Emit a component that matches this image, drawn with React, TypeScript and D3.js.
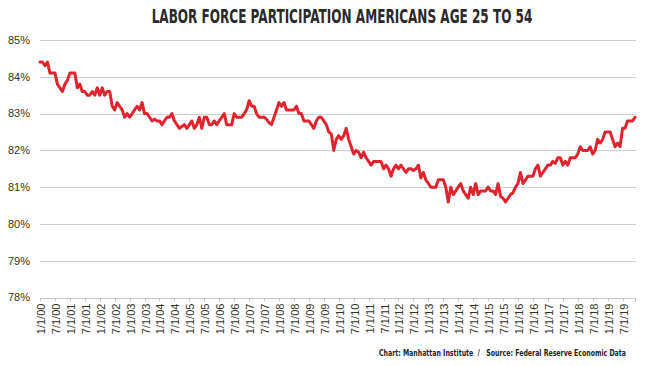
import React, { useEffect, useRef } from 'react';
import * as d3 from 'd3';

const width = 646;
const height = 366;

// Prime-age (25-54) labor force participation rate, monthly, Jan 2000 - Dec 2019
const participation = [
  // 2000
  84.4, 84.4, 84.3, 84.4, 84.1, 84.1, 84.1, 83.8, 83.7, 83.6, 83.8, 83.9,
  // 2001
  84.1, 84.1, 84.1, 83.7, 83.8, 83.6, 83.6, 83.5, 83.5, 83.6, 83.5, 83.7,
  // 2002
  83.5, 83.7, 83.5, 83.6, 83.6, 83.2, 83.1, 83.3, 83.2, 83.1, 82.9, 83.0,
  // 2003
  82.9, 83.0, 83.1, 83.2, 83.1, 83.3, 83.0, 83.0, 82.9, 82.8, 82.85, 82.8,
  // 2004
  82.8, 82.7, 82.8, 82.9, 82.9, 83.0, 82.8, 82.7, 82.6, 82.65, 82.7, 82.6,
  // 2005
  82.7, 82.8, 82.6, 82.7, 82.9, 82.6, 82.9, 82.9, 82.7, 82.7, 82.8, 82.7,
  // 2006
  82.8, 82.9, 83.0, 82.7, 82.7, 82.7, 83.0, 82.9, 82.9, 82.9, 83.0, 83.1,
  // 2007
  83.35, 83.2, 83.2, 83.0, 82.9, 82.9, 82.9, 82.85, 82.75, 82.7, 82.9, 83.1,
  // 2008
  83.3, 83.2, 83.3, 83.1, 83.1, 83.1, 83.1, 83.2, 83.0, 83.0, 82.8, 82.8,
  // 2009
  82.8, 82.7, 82.6, 82.8, 82.9, 82.9, 82.8, 82.7, 82.5, 82.45, 82.0, 82.3,
  // 2010
  82.4, 82.3, 82.4, 82.6, 82.3, 82.1, 81.9, 82.0, 81.95, 81.8, 81.95, 81.8,
  // 2011
  81.7, 81.6, 81.7, 81.7, 81.7, 81.7, 81.5, 81.6, 81.5, 81.3, 81.5, 81.6,
  // 2012
  81.5, 81.6, 81.5, 81.4, 81.5, 81.5, 81.45, 81.5, 81.6, 81.25, 81.4, 81.2,
  // 2013
  81.1, 81.0, 81.0, 81.0, 81.2, 81.2, 81.2, 81.0, 80.6, 81.0, 80.8, 80.9,
  // 2014
  81.0, 81.1, 80.9, 80.8, 80.7, 81.0, 80.8, 81.1, 80.8, 80.9, 80.9, 80.9,
  // 2015
  81.0, 80.9, 80.9, 80.8, 81.1, 80.75, 80.7, 80.6, 80.7, 80.8, 80.85, 81.0,
  // 2016
  81.1, 81.4, 81.1, 81.2, 81.3, 81.3, 81.3, 81.5, 81.6, 81.3, 81.4, 81.5,
  // 2017
  81.6, 81.6, 81.7, 81.65, 81.8, 81.8, 81.6, 81.7, 81.6, 81.8, 81.8, 81.8,
  // 2018
  81.9, 82.1, 82.0, 82.0, 82.0, 82.1, 81.9, 82.0, 82.3, 82.2, 82.3, 82.5,
  // 2019
  82.5, 82.5, 82.3, 82.1, 82.2, 82.1, 82.6, 82.6, 82.8, 82.8, 82.8, 82.9,
];

// one label every six months, starting with the first month
const tickLabels = [
  '1/1/00', '7/1/00', '1/1/01', '7/1/01', '1/1/02', '7/1/02', '1/1/03', '7/1/03',
  '1/1/04', '7/1/04', '1/1/05', '7/1/05', '1/1/06', '7/1/06', '1/1/07', '7/1/07',
  '1/1/08', '7/1/08', '1/1/09', '7/1/09', '1/1/10', '7/1/10', '1/1/11', '7/1/11',
  '1/1/12', '7/1/12', '1/1/13', '7/1/13', '1/1/14', '7/1/14', '1/1/15', '7/1/15',
  '1/1/16', '7/1/16', '1/1/17', '7/1/17', '1/1/18', '7/1/18', '1/1/19', '7/1/19',
];

const yTicks = [78, 79, 80, 81, 82, 83, 84, 85];

const title = 'LABOR FORCE PARTICIPATION AMERICANS AGE 25 TO 54';
const credit = 'Chart: Manhattan Institute  /   Source: Federal Reserve Economic Data';

export default function App() {
  const titleRef = useRef<SVGTextElement>(null);
  const creditRef = useRef<SVGTextElement>(null);

  let left = 40,
      right = 636,
      top = 40,
      bottom = 297.6;

  let x = d3.scaleLinear()
    .domain([0, participation.length - 1])
    .range([left, right - 1]);

  let y = d3.scaleLinear()
    .domain([78, 85])
    .range([bottom, top]);

  let line = d3.line<number>()
    .x((d, i) => x(i))
    .y(d => y(d));

  // squeeze the bold headings horizontally, no condensed font is installed
  useEffect(() => {
    let fit = (el: SVGTextElement | null, cx: number, cy: number, target: number, anchor: string) => {
      if (!el) return;
      let w = el.getComputedTextLength();
      let k = w > 0 ? target / w : 1;
      el.setAttribute('transform', `translate(${cx},${cy}) scale(${k},1)`);
      el.setAttribute('text-anchor', anchor);
    };
    fit(titleRef.current, 342, 23, 381, 'middle');
    fit(creditRef.current, 626, 356, 247, 'end');
  });

  let labelFont = 'Helvetica, "Liberation Sans", Arial, sans-serif';
  let boldFont = '"DejaVu Sans", sans-serif';

  return (
    <div style={{ position: 'absolute', left: 0, top: 0 }}>
      <svg width={width} height={height} style={{ display: 'block', background: '#fff' }}>
        {/* Title */}
        <text ref={titleRef} transform="translate(342,23) scale(0.67,1)" textAnchor="middle"
              fontFamily={boldFont} fontWeight="bold" fontSize={20} fill="#2a2a2a">
          {title}
        </text>

        {/* Gridlines and y labels */}
        {yTicks.map(t => (
          <g key={t}>
            <line x1={left} x2={right} y1={Math.round(y(t)) + 0.5} y2={Math.round(y(t)) + 0.5}
                  stroke={t === 78 ? '#c9c9c9' : '#cfcfcf'} strokeWidth={1} />
            <text x={30} y={y(t)} dy="0.35em" textAnchor="end" fontFamily={labelFont}
                  fontSize={11} fill="#33331f">
              {t + '%'}
            </text>
          </g>
        ))}

        {/* x tick marks and rotated labels */}
        {tickLabels.map((label, k) => {
          let px = Math.round(x(k * 6)) + 0.5;
          return (
            <g key={label}>
              <line x1={px} x2={px} y1={bottom} y2={bottom + 4} stroke="#c9c9c9" />
              <text transform={`translate(${px + 4},${bottom + 6}) rotate(-90)`}
                    textAnchor="end" fontFamily={labelFont} fontSize={11} fill="#33331f">
                {label}
              </text>
            </g>
          );
        })}
        <line x1={right - 0.5} x2={right - 0.5} y1={bottom} y2={bottom + 4} stroke="#c9c9c9" />

        {/* Series */}
        <path d={line(participation) || ''} fill="none" stroke="#e0242f" strokeWidth={3}
              strokeLinejoin="round" strokeLinecap="round" />

        {/* Credit */}
        <text ref={creditRef} transform="translate(626,356) scale(0.73,1)" textAnchor="end"
              xmlSpace="preserve" style={{ whiteSpace: 'pre' }}
              fontFamily={boldFont} fontWeight="bold" fontSize={9.5} fill="#222">
          {credit}
        </text>
      </svg>
    </div>
  );
}
